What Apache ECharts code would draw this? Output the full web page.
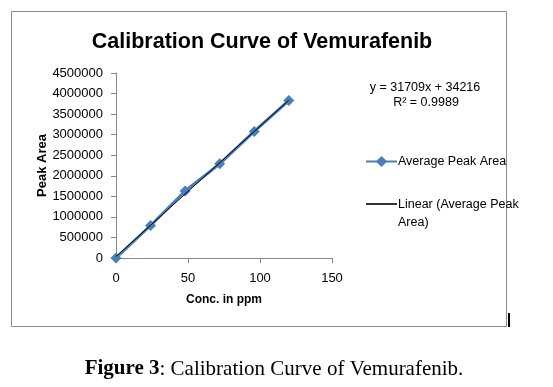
<!DOCTYPE html>
<html><head><meta charset="utf-8">
<script src="https://cdn.jsdelivr.net/npm/echarts@6/dist/echarts.min.js"></script>
<style>html,body{margin:0;padding:0;background:#fff}#c{width:553px;height:387px}</style>
</head><body><div id="c"></div>
<script>
var conc = [0, 24, 48, 72, 96, 120];
var peakArea = [0, 790000, 1630000, 2290000, 3080000, 3830000];
var trendX = [0, 120];
var trendY = [34216, 3839296];
var xTicks = [0, 50, 100, 150];
var yTicks = [0, 500000, 1000000, 1500000, 2000000, 2500000, 3000000, 3500000, 4000000, 4500000];
var titleText = 'Calibration Curve of Vemurafenib';
var eqLines = ['y = 31709x + 34216', 'R\u00b2 = 0.9989'];
var seriesNames = ['Average Peak Area', 'Linear (Average Peak Area)'];
var legendLines = ['Linear (Average Peak', 'Area)'];
var caption = 'Figure 3';
var captionRest = ': Calibration Curve of Vemurafenib.';

var F = 'Liberation Sans, Arial, sans-serif';
var chart = echarts.init(document.getElementById('c'), null, {renderer: 'canvas'});
chart.setOption({
  animation: false,
  backgroundColor: '#fff',
  title: {text: titleText, left: 257, top: 26, textAlign: 'center',
    textStyle: {fontFamily: F, fontSize: 21.5, fontWeight: 'bold', color: '#000'}},
  grid: {left: 116, right: 221, top: 73, bottom: 129},
  xAxis: {type: 'value', min: xTicks[0], max: xTicks[xTicks.length - 1], interval: 50,
    name: 'Conc. in ppm', nameLocation: 'middle', nameGap: 36,
    nameTextStyle: {fontFamily: F, fontSize: 12, fontWeight: 'bold', color: '#000'},
    axisLine: {show: true, onZero: false, lineStyle: {color: '#888', width: 1}},
    axisTick: {show: true, inside: false, length: 5, lineStyle: {color: '#888'}},
    axisLabel: {fontFamily: F, fontSize: 13, color: '#000', margin: 14},
    splitLine: {show: false}},
  yAxis: {type: 'value', min: yTicks[0], max: yTicks[yTicks.length - 1], interval: 500000,
    name: 'Peak Area', nameLocation: 'middle', nameGap: 67, nameRotate: 90,
    nameTextStyle: {fontFamily: F, fontSize: 13, fontWeight: 'bold', color: '#000'},
    axisLine: {show: true, lineStyle: {color: '#888', width: 1}},
    axisTick: {show: true, inside: false, length: 5, lineStyle: {color: '#888'}},
    axisLabel: {fontFamily: F, fontSize: 13, color: '#000', margin: 13,
      formatter: function (v) { return String(v); }},
    splitLine: {show: false}},
  legend: [
    {data: [seriesNames[0]], orient: 'vertical', left: 360, top: 150, itemWidth: 31, itemHeight: 14, itemGap: 0,
     textStyle: {fontFamily: F, fontSize: 12.5, color: '#000', padding: [0, 0, 0, -4]}},
    {data: [seriesNames[1]], orient: 'vertical', left: 360, top: 193, itemWidth: 31, itemHeight: 14,
     itemStyle: {opacity: 0}, lineStyle: {color: '#333'},
     formatter: function () { return '{a|' + legendLines[0] + '}\n{b|' + legendLines[1] + '}'; },
     textStyle: {fontFamily: F, fontSize: 12.5, color: '#000', padding: [0, 0, 0, -4],
       rich: {a: {fontFamily: F, fontSize: 12.5, color: '#000', lineHeight: 38, verticalAlign: 'bottom'},
              b: {fontFamily: F, fontSize: 12.5, color: '#000', lineHeight: 24}}}}
  ],
  series: [
    {name: seriesNames[0], type: 'line', data: conc.map(function (x, i) { return [x, peakArea[i]]; }),
     lineStyle: {color: '#4A7EBB', width: 3}, itemStyle: {color: '#4A7EBB'},
     symbol: 'diamond', symbolSize: 11, z: 2},
    {name: seriesNames[1], type: 'line', data: trendX.map(function (x, i) { return [x, trendY[i]]; }),
     lineStyle: {color: '#000', width: 1}, itemStyle: {color: '#000'}, showSymbol: false, symbol: 'none', z: 3}
  ],
  graphic: [
    {type: 'rect', shape: {x: 11.5, y: 11.5, width: 495, height: 315}, style: {fill: 'none', stroke: '#8c8c8c', lineWidth: 1}, z: -1},
    {type: 'rect', shape: {x: 508, y: 313, width: 2, height: 14}, style: {fill: '#000'}},
    {type: 'text', style: {text: eqLines[0], x: 425, y: 88, textAlign: 'center', textVerticalAlign: 'middle', font: '12.5px ' + F, fill: '#000'}},
    {type: 'text', style: {text: eqLines[1], x: 426, y: 103, textAlign: 'center', textVerticalAlign: 'middle', font: '12.5px ' + F, fill: '#000'}},
    {type: 'text', style: {rich: {b: {fontFamily: 'Liberation Serif', fontSize: 21, fontWeight: 'bold', fill: '#000'}, n: {fontFamily: 'Liberation Serif', fontSize: 21, fill: '#000'}},
      text: '{b|' + caption + '}{n|' + captionRest + '}', x: 274, y: 369, textAlign: 'center', textVerticalAlign: 'middle'}}
  ]
});
</script></body></html>
